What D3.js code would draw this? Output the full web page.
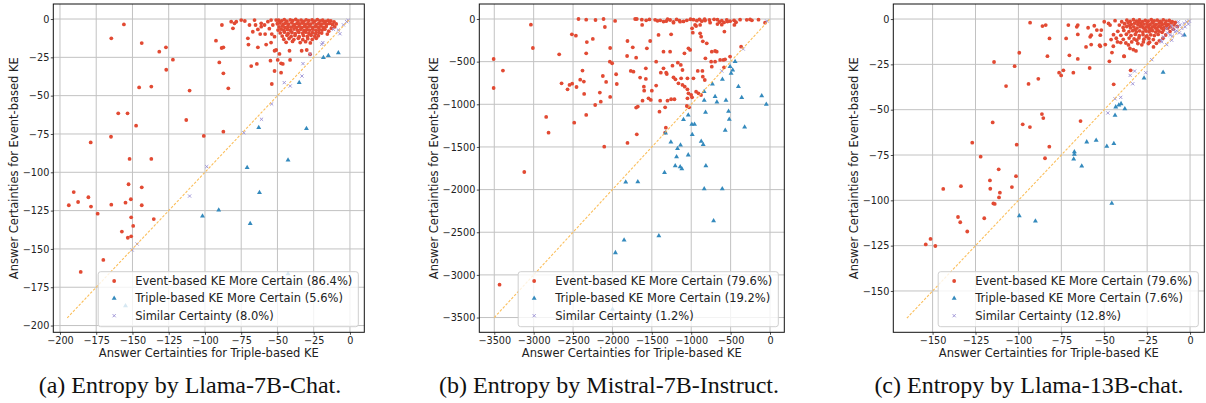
<!DOCTYPE html>
<html><head><meta charset="utf-8">
<script src="https://cdn.jsdelivr.net/npm/d3@7"></script>
<style>body{margin:0;background:#fff}svg{display:block}</style>
</head><body>
<svg id="fig" width="1206" height="403"></svg>
<script>
// ---------------- DATA ----------------
const xAxisLabel = "Answer Certainties for Triple-based KE";
const yAxisLabel = "Answer Certainties for Event-based KE";

const ticksA = [-200,-175,-150,-125,-100,-75,-50,-25,0];
const ticksB = [-3500,-3000,-2500,-2000,-1500,-1000,-500,0];
const ticksC = [-150,-125,-100,-75,-50,-25,0];

const legendA = ["Event-based KE More Certain (86.4%)","Triple-based KE More Certain (5.6%)","Similar Certainty (8.0%)"];
const legendB = ["Event-based KE More Certain (79.6%)","Triple-based KE More Certain (19.2%)","Similar Certainty (1.2%)"];
const legendC = ["Event-based KE More Certain (79.6%)","Triple-based KE More Certain (7.6%)","Similar Certainty (12.8%)"];

const captions = ["(a) Entropy by Llama-7B-Chat.","(b) Entropy by Mistral-7B-Instruct.","(c) Entropy by Llama-13B-chat."];

const diagA = [-195, 0];
const diagB = [-3500, 0];
const diagC = [-165, 0];

// Panel (a) Llama-7B-Chat
const llama7Event = [
[-164.6,-12.6],[-155.9,-3.5],[-143.6,-15.7],[-131.5,-21.3],[-126.9,-18.5],[-122.1,-26.5],[-126.7,-33.1],[-145.4,-44.6],[-137,-44.1],[-110.6,-46.7],
[-159.8,-61.5],[-153.4,-61.5],[-147.5,-69.6],[-164.8,-76.8],[-178.8,-80.5],[-152,-91.3],[-137,-91.3],[-112.9,-65.9],[-100.8,-76.3],[-87.3,-73.5],
[-92.4,-14.1],[-88.3,-3.9],[-90.1,-28.3],[-87.3,-18.5],[-88.5,-18.9],[-87.3,-35.4],[-83.9,-45.2],[-152.7,-107.8],[-143.6,-109.8],[-190.5,-112.9],
[-180.4,-116.3],[-151.1,-117.6],[-193.9,-121.5],[-187.5,-119.4],[-178.6,-122.4],[-174,-127],[-164.6,-121.1],[-154.8,-119.8],[-143.6,-121.5],[-150.9,-129.4],
[-149.5,-135],[-135.3,-130.5],[-157.3,-138.7],[-153.2,-142.7],[-150.9,-141.8],[-170.1,-157.2],[-185.7,-165],
[-70.4,-12.6],[-70,-16.7],[-63.5,-18.5],[-57.8,-16.7],[-54.4,-15.4],[-67,-8.3],[-61.9,-9.8],[-58.5,-9.8],[-53.9,-9.8],[-52,-11.5],
[-52,-20.7],[-50.9,-20.2],[-48.6,-22.8],[-49.8,-26.7],[-54.8,-27.2],[-47.5,-28.9],[-41.3,-26.7],[-41.7,-20.7],[-33.3,-20.7],[-29.8,-20.2],
[-27.5,-23],[-68.1,-30.7],[-64.2,-29.3],[-52,-33.9],[-47.5,-35],[-53.9,-42.4],[-46.3,-29.3],
[-81.9,-1.7],[-79.6,-2.8],[-78.4,-1.7],[-80.7,-6.1],[-75,-0.7],[-69.3,-3.9],[-65.8,-0.7],[-65.1,-3.9],[-61.2,-2.8],[-61.2,-5],
[-58.9,-3.9],[-56.6,-1.7],[-54.4,-0.7],[-53.2,-3.9],[-50.9,-0.7],[-72.5,-1.3],[-63.5,-6.8],[-55.6,-6.3],
[-49.2,-0.8],[-47.1,-1.2],[-45.3,-0.4],[-43.6,-1.4],[-41.2,-0.6],[-39.5,-1.1],[-37.4,-0.3],[-35.8,-1.3],[-33.7,-0.7],[-31.9,-1.5],
[-30.2,-0.5],[-28.4,-1.0],[-26.1,-0.6],[-24.3,-1.4],[-22.5,-0.4],[-20.6,-1.2],[-18.8,-0.8],[-16.9,-1.5],[-15.1,-0.9],[-13.2,-1.3],[-11.0,-1.8],
[-50.1,-3.1],[-48.2,-2.6],[-46.0,-3.4],[-44.4,-2.7],[-42.3,-3.3],[-40.1,-2.5],[-38.3,-3.6],[-36.5,-2.8],[-34.6,-3.2],[-32.8,-2.6],
[-30.9,-3.5],[-29.0,-2.9],[-27.2,-3.3],[-25.4,-2.5],[-23.3,-3.6],[-21.5,-2.8],[-19.7,-3.3],[-17.9,-2.7],[-16.0,-3.4],[-14.1,-2.9],[-12.0,-3.5],[-9.5,-3.2],
[-48.9,-5.2],[-46.8,-4.6],[-44.9,-5.5],[-42.8,-4.8],[-40.7,-5.3],[-38.9,-4.5],[-36.9,-5.4],[-35.1,-4.7],[-33.2,-5.5],[-31.3,-4.8],
[-29.5,-5.3],[-27.7,-4.6],[-25.8,-5.4],[-23.9,-4.9],[-22.0,-5.3],[-20.1,-4.6],[-18.3,-5.5],[-16.4,-4.8],
[-49.6,-7.2],[-47.4,-6.6],[-45.5,-7.5],[-43.1,-6.8],[-41.0,-7.4],[-38.6,-6.5],[-36.2,-7.3],[-34.0,-6.7],[-31.7,-7.5],[-29.8,-6.9],
[-27.9,-7.3],[-25.6,-6.6],[-23.4,-7.4],[-21.2,-6.8],[-19.2,-7.2],[-17.3,-6.6],
[-48.1,-9.1],[-45.2,-8.6],[-42.6,-9.4],[-40.0,-8.8],[-37.7,-9.5],[-35.3,-8.7],[-32.6,-9.3],[-30.4,-8.6],[-28.2,-9.5],[-25.9,-8.9],[-23.6,-9.4],[-21.4,-8.7],[-19.5,-9.2],
[-46.7,-11.1],[-43.4,-10.6],[-40.6,-11.4],[-37.9,-10.7],[-35.0,-11.5],[-32.1,-10.8],[-29.4,-11.3],[-26.8,-10.6],[-24.2,-11.4],[-21.8,-10.9],
[-45.6,-13.2],[-42.0,-12.7],[-38.7,-13.4],[-35.6,-12.6],[-32.5,-13.5],[-29.1,-12.8],[-26.0,-13.3],[-23.2,-12.6],
[-44.0,-15.2],[-39.6,-14.6],[-34.3,-15.4],[-30.6,-14.8],[-27.3,-15.6],
[-10.5,-5.1],[-12.8,-6.0],[-14.6,-7.9],[-15.6,-9.8]
];
const llama7Triple = [
[-62.9,-70.9],[-70.9,-97],[-62.4,-113.3],[-101.7,-128.5],[-90.5,-124.6],[-68.8,-133.5],[-42.7,-166.3],[-154.8,-187.2],[-42.7,-92],[-30,-71.5],
[-35,-41.5],[-18.3,-25.2],[-14.9,-23.9],[-8,-22]
];
const llama7Similar = [
[-110.6,-115.5],[-146.8,-146.8],[-150.2,-150.7],[-98.8,-96.3],[-73.2,-74.2],[-61,-65.4],[-54,-55.4],[-45.3,-41.5],[-41.2,-43.7],[-33.1,-37.2],
[-32.4,-29.1],[-27.4,-23],[-19.4,-16.5],[-18.7,-15.4],[-11.4,-6.7],[-8,-7.2],[-6.9,-9.6],[-2.3,-1.7],[-4.5,-3.8],[-1.2,-0.9]
];

// Panel (b) Mistral-7B-Instruct
const mistralEvent = [
[-3508,-469],[-3508,-809],[-3390,-605],[-3035,-66],[-3010,-340],[-2841,-1148],[-2676,-414],[-2646,-754],[-2570,-824],[-2545,-773],
[-2511,-758],[-2456,-797],[-2409,-711],[-2363,-734],[-2380,-605],[-2359,-879],[-2515,-180],[-2464,-195],[-2325,-270],[-2249,-234],
[-2333,-402],[-2431,0],[-2333,-8],[-2215,-12],[-2113,0],[-2096,-94],[-1966,-23],[-2029,-340],[-2033,-500],[-2004,-519],
[-2122,-668],[-2080,-738],[-1953,-648],[-1945,-762],[-2160,-863],[-2029,-914],[-2148,-969],[-2219,-1008],[-2333,-1125],[-1809,-258],
[-1742,-332],[-1814,-434],[-1699,-453],[-1767,-609],[-1733,-617],[-1712,0],[-1691,0],[-1649,-687],[-1699,-1039],[-1678,-1027],
[-2104,-1497],[-2811,-1333],[-3119,-1794],[-2485,-1216],[-3433,-3115],
[-1415,-187],[-1255,-180],[-1521,-258],[-1563,-344],[-1576,-578],[-1445,-500],[-1352,-383],[-1268,-383],[-1086,-402],[-1035,-344],
[-1014,-363],[-980,-160],[-887,-168],[-874,-207],[-853,-262],[-803,-285],[-989,-109],[-938,-82],[-887,-70],[-579,-148],
[-739,-383],[-697,-375],[-676,-383],[-820,-461],[-747,-500],[-697,-500],[-633,-480],[-591,-480],[-570,-473],[-507,-441],
[-367,-324],[-1386,-629],[-1352,-578],[-1318,-629],[-1238,-547],[-1170,-512],[-1132,-539],[-1111,-598],[-917,-609],[-858,-609],
[-853,-676],[-828,-715],[-739,-559],[-583,-566],[-1576,-703],[-1445,-781],[-1601,-793],[-1597,-840],[-1500,-840],[-1618,-957],
[-1542,-930],[-1513,-949],[-1394,-957],[-1331,-1035],[-1403,-1086],[-1301,-957],[-1255,-941],[-1213,-941],[-1200,-707],[-1128,-695],
[-1162,-754],[-1111,-773],[-1082,-793],[-1048,-695],[-972,-695],[-1048,-824],[-1035,-871],[-1001,-891],[-989,-918],[-1048,-930],
[-1027,-1035],[-1056,-1020],[-938,-852],[-908,-871],[-875,-891],[-1225,-684],[-1310,-645],
[-1809,-1453],[-1691,-1352],[-1322,-1274],[-1331,-1332],
[-1627,-8],[-1572,-15],[-1458,-10],[-1428,-22],[-1394,-15],[-1352,-30],[-1318,-25],[-1268,-12],[-1225,-35],[-1149,-20],
[-1098,-28],[-1056,-15],[-972,-8],[-929,-20],[-896,-5],[-866,-25],[-824,-18],[-769,-12],[-667,-8],[-642,-35],
[-612,-20],[-583,-40],[-549,-10],[-507,-25],[-456,-15],[-431,-38],[-295,-10],[-253,-5],[-63,-43],[-1623,-70],
[-1225,-43],[-1141,-31],[-951,-70],[-760,-43],[-667,-59],[-612,-66],[-452,-70],[-1530,-5],[-1185,-5],[-1010,-3],
[-710,-4],[-540,-30],[-380,-8],[-146,-8],[-230,-15],[-1300,-2],[-830,-2]
];
const mistralTriple = [
[-835,-954],[-674,-974],[-559,-954],[-47,-1001],[-1038,-1126],[-1098,-1180],[-818,-1094],[-526,-1083],[-517,-1176],[-992,-1235],
[-958,-1235],[-568,-1305],[-322,-1266],[-1326,-1336],[-987,-1356],[-1258,-1442],[-1136,-1477],[-1174,-1520],[-873,-1434],[-848,-1473],
[-1038,-1594],[-1186,-1617],[-1203,-1722],[-1140,-1734],[-1119,-1757],[-814,-1722],[-1339,-1800],[-1831,-1913],[-1678,-1910],[-835,-1991],
[-606,-1991],[-716,-2366],[-1852,-2592],[-1411,-2541],[-1962,-2740],[-443,-500],[-507,-559],[-473,-598],[-494,-637],[-604,-707],
[-731,-762],[-401,-793],[-836,-852],[-697,-910],[-359,-922],[-105,-902],[-1999,-3403]
];
const mistralSimilar = [[-612,-609],[-340,-352],[-40,-25]];

// Panel (c) Llama-13B-chat
const llama13Event = [
[-93.2,-2],[-86,-3.9],[-84.1,-3.3],[-81.9,-10.7],[-99.5,-18.6],[-114.2,-23.7],[-102.2,-26],[-83.1,-20.5],[-88.4,-33],[-107.2,-37],
[-94.1,-35.8],[-126.9,-68.2],[-122,-75.9],[-115,-57],[-111.5,-82.9],[-116.6,-89],[-116.4,-93.6],[-143.8,-93.7],[-133.5,-92.2],[-103.8,-92.7],
[-101.4,-86.7],[-110.8,-95.8],[-111.3,-98.4],[-97.5,-58.1],[-93.3,-59.6],[-86.3,-52.4],[-85.5,-54.6],[-101,-69.3],[-82,-70.4],[-84.5,-76.8],
[-76.3,-29.6],[-75.1,-31.1],[-73.8,-28.3],[-68,-29.6],[-70.3,-20],[-72.2,-10.7],[-63.8,-56.3],[-58.5,-27],[-44.5,-36],[-47,-23.3],
[-45.5,-18.5],[-38.4,-20.6],[-34.6,-28.3],[-114.6,-101.7],[-113.8,-102],[-135.2,-109.2],[-133.9,-112.1],[-119.9,-109.9],[-129.8,-117.2],[-151.2,-121.3],
[-154,-124.3],[-148.4,-125.2],[-70.9,-3.3],[-66,-4.3],[-65.4,-3.3],[-65.4,-8.5],[-65.4,-22],[-59.4,-4.8],[-55.8,-3.7],[-54.3,-6.1],
[-51.7,-6.1],[-57.6,-8.9],[-58.2,-9.8],[-52.3,-8.9],[-60.6,-15.4],[-57.6,-14.1],[-52.7,-14.4],[-52.3,-15],[-49.4,-14.1],
[-50,-1.5],[-47.5,-2.4],[-46.6,-3.3],[-43.7,-0.9],[-41.2,-3.3],[-39.8,-1.5],[-40.4,-13],[-35.9,-14.3],[-35,-16.2],[-38.5,-20.4],
[-25.6,-9.7],[-27.2,-12.6],[-24.3,-13.5],[-21.3,-15.4],[-17.9,-12],[-31.1,-11.7],[-33,-16.9],[-31.5,-17.6],[-44.7,-15],[-42.3,-12.6],[-46,-11.3],
[-36.8,-0.6],[-34.9,-1.3],[-33.0,-0.4],[-31.2,-1.1],[-29.5,-0.5],[-27.8,-1.4],[-26.1,-0.7],[-24.4,-1.2],[-22.6,-0.3],[-20.9,-1.0],
[-19.1,-0.6],[-17.4,-1.3],[-15.6,-0.5],[-13.9,-1.1],[-12.1,-0.8],[-10.4,-1.4],
[-38.2,-2.6],[-36.1,-2.1],[-34.2,-2.9],[-32.3,-2.3],[-30.4,-3.0],[-28.7,-2.2],[-26.9,-2.8],[-25.1,-2.4],[-23.3,-3.1],[-21.6,-2.2],
[-19.8,-2.9],[-18.0,-2.3],[-16.2,-3.0],[-14.5,-2.4],[-12.7,-2.9],[-11.0,-2.1],[-9.3,-3.2],
[-39.0,-4.6],[-36.9,-4.1],[-34.7,-4.9],[-32.8,-4.3],[-30.9,-5.0],[-29.1,-4.2],[-27.3,-4.8],[-25.5,-4.3],[-23.7,-5.1],[-21.9,-4.4],
[-20.1,-4.9],[-18.3,-4.2],[-16.6,-5.0],[-14.8,-4.5],[-13.0,-5.2],
[-42.1,-6.8],[-38.6,-6.3],[-35.6,-7.0],[-33.4,-6.4],[-31.3,-7.1],[-29.4,-6.5],[-27.5,-7.2],[-25.6,-6.6],[-23.8,-7.0],[-21.9,-6.4],
[-20.0,-7.2],[-18.1,-6.7],[-16.3,-7.3],
[-44.6,-8.6],[-40.3,-9.0],[-37.1,-8.4],[-34.4,-9.1],[-31.9,-8.5],[-29.6,-9.2],[-27.4,-8.6],[-25.1,-9.3],[-22.9,-8.7],[-20.8,-9.1],[-18.6,-8.5],
[-43.0,-10.6],[-38.9,-11.2],[-35.5,-10.5],[-32.6,-11.0],[-29.8,-10.4],[-26.9,-11.1],[-24.0,-10.7],[-21.4,-11.3],
[-37.4,-13.2],[-34.0,-12.6],[-30.4,-13.5],[-28.1,-14.2],[-23.6,-12.8],[-19.6,-13.4],
[-8.6,-1.9],[-7.4,-4.1],[-9.8,-5.6],[-11.7,-6.9],[-14.2,-8.8],[-15.8,-10.6],
[-28.4,-3.6],[-24.2,-3.8],[-20.5,-3.5],[-17.1,-3.9],[-13.6,-3.7],[-26.2,-5.8],[-22.8,-5.9],[-19.2,-5.7],[-15.5,-6.1],[-32.0,-5.8],
[-35.2,-3.6],[-30.1,-1.9],[-22.0,-1.7],[-16.8,-1.8],[-11.5,-4.3]
];
const llama13Triple = [
[-67.4,-73.3],[-67.4,-74.6],[-67.8,-77.3],[-63.1,-81.1],[-60.2,-67.8],[-54.7,-66.9],[-48.5,-70.2],[-44.4,-68.7],[-43.7,-53.1],[-43.3,-48.5],
[-40.2,-46.7],[-38,-49.5],[-99.5,-108.6],[-90.1,-111.4],[-45.6,-101.7],[-26.8,-32.6],[-15.7,-29.4],[-3.3,-8.9],[-41.5,-47.5]
];
const llama13Similar = [
[-43.7,-44],[-40.4,-43.2],[-47.9,-51.8],[-34.9,-31.1],[-32.3,-28.7],[-33.4,-35.7],[-25.8,-29.6],[-22.3,-22.4],[-16.9,-11.7],[-13.6,-14.1],
[-10.7,-11.7],[-10.3,-9.4],[-9.7,-5.7],[-7.8,-4.3],[-5.8,-3.3],[-4.8,-5.2],[-3.5,-2.4],[-1.9,-1.5],[-6.2,-7.6],[-8.7,-7],
[-11.6,-8.9],[-13.2,-7.6],[-4.3,-8.9],[-6.8,-1.5],[-2.9,-4.3],[-1,-2.8],[-10.7,-3.9],[-13.6,-5.2],[-7.8,-6.5],[-15.5,-9.8],
[-0.4,-1.1],[-16.5,-12.6]
];

// ---------------- LAYOUT / STYLE ----------------
const COL = {event:"#E24A33", triple:"#348ABD", similar:"#988ED5", diag:"#fbbf5c", grid:"#c2c2c2"};
const panels = [
 {ev:llama7Event, tr:llama7Triple, si:llama7Similar, ticks:ticksA, legend:legendA, diag:diagA, cap:captions[0],
  x0:53.3, x1:364.3, y0:4, y1:332.3, xdom:[-204.6,9.9], ydom:[-204.4,9.8], ylabX:18, capX:190},
 {ev:mistralEvent, tr:mistralTriple, si:mistralSimilar, ticks:ticksB, legend:legendB, diag:diagB, cap:captions[1],
  x0:479.3, x1:784.3, y0:4, y1:332.3, xdom:[-3690,181.5], ydom:[-3673,175.8], ylabX:438, capX:609},
 {ev:llama13Event, tr:llama13Triple, si:llama13Similar, ticks:ticksC, legend:legendC, diag:diagC, cap:captions[2],
  x0:893.3, x1:1204.3, y0:4, y1:332.3, xdom:[-172.9,8.3], ydom:[-172.8,8.3], ylabX:858, capX:1029}
];

const svg = d3.select("#fig");
svg.append("rect").attr("width",1206).attr("height",403).attr("fill","#fff");
const FONT = "'DejaVu Sans', sans-serif";
const fmt = d3.format("d");
const tri = d3.symbol().type(d3.symbolTriangle).size(10.5)();
const xPath = "M-1.6,-1.6L1.6,1.6M-1.6,1.6L1.6,-1.6";
const R = 1.9;

function drawPanel(p){
  const g = svg.append("g");
  const x = d3.scaleLinear().domain(p.xdom).range([p.x0,p.x1]);
  const y = d3.scaleLinear().domain(p.ydom).range([p.y1,p.y0]);
  const clipId = "clip"+Math.round(p.x0);
  svg.append("clipPath").attr("id",clipId).append("rect")
    .attr("x",p.x0).attr("y",p.y0).attr("width",p.x1-p.x0).attr("height",p.y1-p.y0);
  const grid = g.append("g");
  grid.selectAll(".gv").data(p.ticks).join("line")
    .attr("x1",d=>x(d)).attr("x2",d=>x(d)).attr("y1",p.y0).attr("y2",p.y1)
    .attr("stroke",COL.grid).attr("stroke-width",1);
  grid.selectAll(".gh").data(p.ticks).join("line")
    .attr("y1",d=>y(d)).attr("y2",d=>y(d)).attr("x1",p.x0).attr("x2",p.x1)
    .attr("stroke",COL.grid).attr("stroke-width",1);
  const pts = g.append("g").attr("clip-path",`url(#${clipId})`);
  pts.selectAll(".ev").data(p.ev).join("circle")
    .attr("cx",d=>x(d[0])).attr("cy",d=>y(d[1])).attr("r",R).attr("fill",COL.event);
  pts.selectAll(".tr").data(p.tr).join("path")
    .attr("d",tri).attr("transform",d=>`translate(${x(d[0])},${y(d[1])})`).attr("fill",COL.triple);
  pts.selectAll(".si").data(p.si).join("path")
    .attr("d",xPath).attr("transform",d=>`translate(${x(d[0])},${y(d[1])})`)
    .attr("stroke",COL.similar).attr("stroke-width",0.9).attr("fill","none");
  pts.append("line")
    .attr("x1",x(p.diag[0])).attr("y1",y(p.diag[0])).attr("x2",x(p.diag[1])).attr("y2",y(p.diag[1]))
    .attr("stroke",COL.diag).attr("stroke-width",1.1).attr("stroke-dasharray","2.6,1.6");
  // axes
  const ax = g.append("g").attr("transform",`translate(0,${p.y1})`)
    .call(d3.axisBottom(x).tickValues(p.ticks).tickFormat(fmt).tickSize(2.5).tickPadding(2));
  const ay = g.append("g").attr("transform",`translate(${p.x0},0)`)
    .call(d3.axisLeft(y).tickValues(p.ticks).tickFormat(fmt).tickSize(2.5).tickPadding(1.5));
  [ax,ay].forEach(a=>{
    a.select(".domain").remove();
    a.selectAll("line").attr("stroke","#222").attr("stroke-width",0.8);
    a.selectAll("text").attr("font-family",FONT).attr("font-size","9.7px").attr("fill","#222");
  });
  // frame
  g.append("rect").attr("x",p.x0).attr("y",p.y0).attr("width",p.x1-p.x0).attr("height",p.y1-p.y0)
    .attr("fill","none").attr("stroke","#111").attr("stroke-width",1);
  // axis labels
  g.append("text").attr("x",(p.x0+p.x1)/2).attr("y",356.7).attr("text-anchor","middle")
    .attr("font-family",FONT).attr("font-size","11.5px").attr("fill","#222").text(xAxisLabel);
  g.append("text").attr("transform",`translate(${p.ylabX},${(p.y0+p.y1)/2}) rotate(-90)`).attr("text-anchor","middle")
    .attr("font-family",FONT).attr("font-size","11.5px").attr("fill","#222").text(yAxisLabel);
  // legend
  const lg = g.append("g");
  const box = lg.append("rect");
  const texts = lg.selectAll(".lt").data(p.legend).join("text")
    .attr("font-family",FONT).attr("font-size","11.5px").attr("fill","#222").text(d=>d);
  let tw = 0; texts.each(function(){ tw = Math.max(tw, this.getComputedTextLength()); });
  const bw = 37 + tw + 6, bh = 55;
  const bx = p.x1 - 6 - bw, by = p.y1 - 5.6 - bh;
  box.attr("x",bx).attr("y",by).attr("width",bw).attr("height",bh).attr("rx",2.5)
    .attr("fill","#fff").attr("fill-opacity",0.8).attr("stroke","#cfcfcf").attr("stroke-width",1);
  const rowY = [9.3, 26.6, 44];
  texts.attr("x",bx+37).attr("y",(d,i)=>by+rowY[i]+4.1);
  lg.append("circle").attr("cx",bx+16).attr("cy",by+rowY[0]).attr("r",R).attr("fill",COL.event);
  lg.append("path").attr("d",tri).attr("transform",`translate(${bx+16},${by+rowY[1]})`).attr("fill",COL.triple);
  lg.append("path").attr("d",xPath).attr("transform",`translate(${bx+16},${by+rowY[2]})`)
    .attr("stroke",COL.similar).attr("stroke-width",0.9).attr("fill","none");
  // caption
  g.append("text").attr("x",p.capX).attr("y",393).attr("text-anchor","middle")
    .attr("font-family","'Liberation Serif','Times New Roman',serif").attr("font-size","24px").attr("fill","#111").text(p.cap);
}
panels.forEach(drawPanel);
</script>
</body></html>
